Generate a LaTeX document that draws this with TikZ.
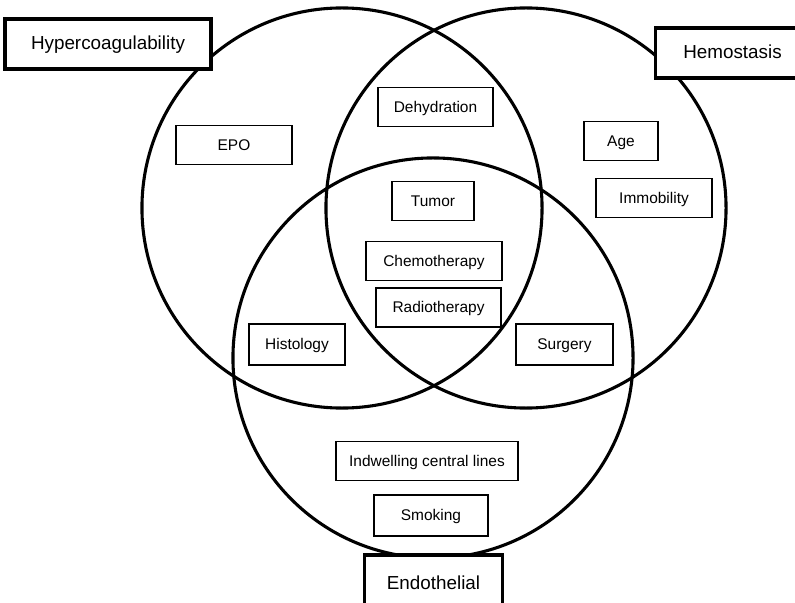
\documentclass[tikz,border=0pt]{standalone}
\usepackage{fontspec}
\setmainfont{Liberation Sans}

\begin{document}
\begin{tikzpicture}[x=0.025cm,y=-0.025cm,
    set circle/.style={line width=2.2pt},
    factor node/.style={rectangle,draw,fill=white,line width=0.9pt,inner sep=0pt,
      text height=0.72em,text depth=0pt,
      minimum height=0.97cm,font=\fontsize{11}{13}\selectfont},
    group node/.style={rectangle,draw,fill=white,line width=2.2pt,inner sep=0pt,
      text height=0.72em,text depth=0pt,
      minimum height=1.25cm,font=\fontsize{13.4}{16}\selectfont}]
    \clip (0,0) rectangle (795,603);
    % the three sets
    \draw[set circle] (342,208) circle[radius=5cm];
    \draw[set circle] (526,208) circle[radius=5cm];
    \draw[set circle] (433,358) circle[radius=5cm];
    % set labels
    \node[group node,minimum width=5.15cm] (hyper) at (108,44) {Hypercoagulability};
    \node[group node,minimum width=3.83cm] (hemo) at (732.5,53) {Hemostasis};
    \node[group node,minimum width=3.47cm,minimum height=1.45cm] (endo) at (433.5,584) {Endothelial};
    % risk factors
    \node[factor node,minimum width=2.9cm] (epo) at (234,145) {EPO};
    \node[factor node,minimum width=2.88cm] (dehyd) at (435.5,107) {Dehydration};
    \node[factor node,minimum width=1.85cm] (age) at (621,141) {Age};
    \node[factor node,minimum width=2.9cm] (immob) at (654,198) {Immobility};
    \node[factor node,minimum width=2.05cm] (tumor) at (433,201) {Tumor};
    \node[factor node,minimum width=3.4cm] (chemo) at (434,261) {Chemotherapy};
    \node[factor node,minimum width=3.12cm] (radio) at (438.5,307.5) {Radiotherapy};
    \node[factor node,minimum width=2.4cm,minimum height=1.02cm] (histo) at (297,344.5) {Histology};
    \node[factor node,minimum width=2.42cm,minimum height=1.02cm] (surg) at (564.5,344.5) {Surgery};
    \node[factor node,minimum width=4.55cm] (lines) at (427,461) {Indwelling central lines};
    \node[factor node,minimum width=2.85cm,minimum height=1.02cm] (smoke) at (431,515.5) {Smoking};
\end{tikzpicture}
\end{document}
